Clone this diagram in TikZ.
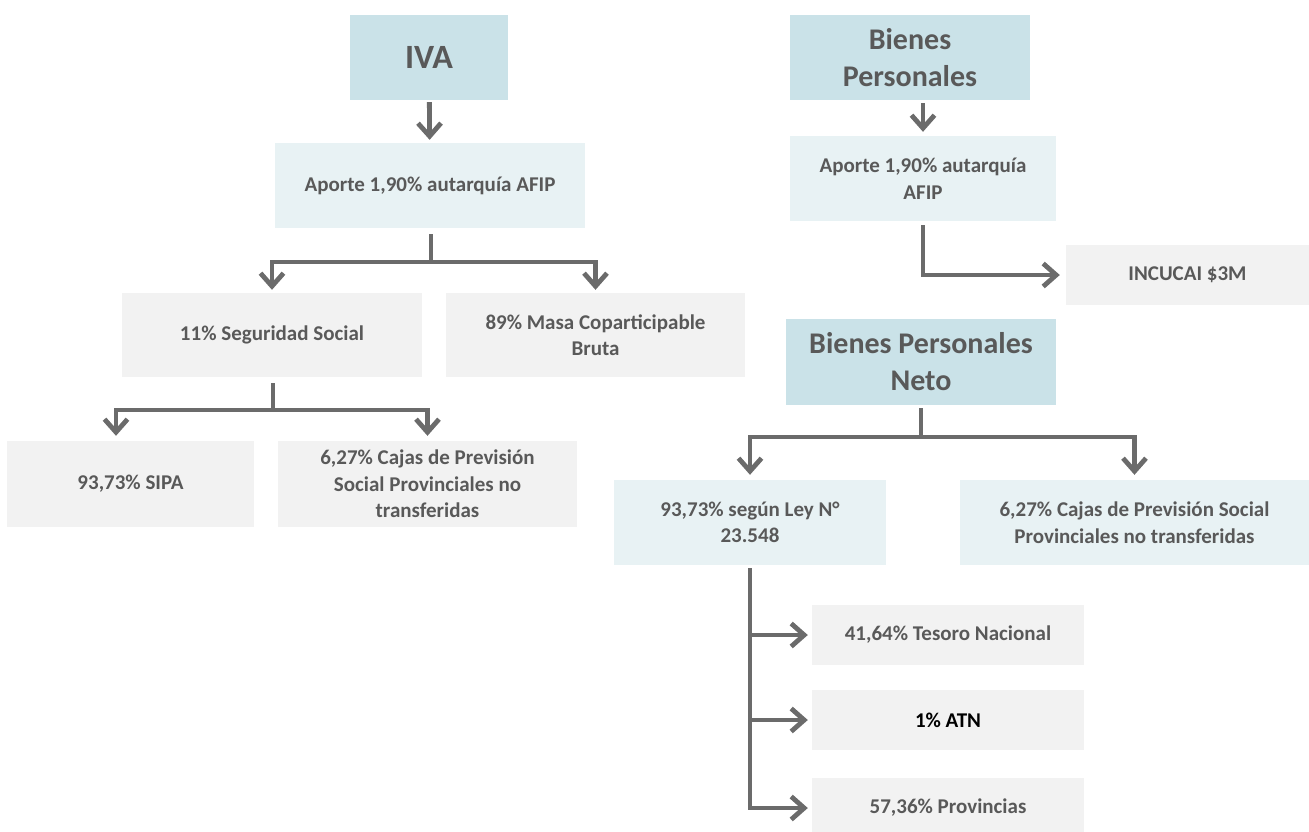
\documentclass[tikz,border=0pt]{standalone}
\usepackage{fontspec}
\setmainfont{Carlito}
\usetikzlibrary{arrows.meta}
\definecolor{titlefill}{HTML}{CAE2E8}
\definecolor{subfill}{HTML}{E8F2F4}
\definecolor{leaffill}{HTML}{F2F2F2}
\definecolor{ink}{HTML}{595959}
\definecolor{wire}{HTML}{6B6B6B}
\begin{document}
\begin{tikzpicture}[x=1pt,y=-1pt,
  box/.style={rectangle, inner sep=0pt, align=center, text=ink,
    font=\bfseries\fontsize{21}{26.5}\selectfont},
  title/.style={box, fill=titlefill, font=\bfseries\fontsize{30}{37}\selectfont},
  sub/.style={box, fill=subfill},
  leaf/.style={box, fill=leaffill},
  sz/.style 2 args={minimum width=#1pt, minimum height=#2pt},
  wireline/.style={draw=wire, line width=4.8pt, line join=miter},
  arr/.style={wireline, -{Straight Barb[length=13pt,width=23pt]}}]

\useasboundingbox (0,0) rectangle (1309,831);

% --- IVA ---
\node[title, sz={158}{85}, font=\bfseries\fontsize{34}{40}\selectfont] (iva) at (429,57.5) {IVA};
\node[sub, sz={310}{85}] (apiva) at (430,185.5) {Aporte 1,90\% autarquía AFIP};
\node[leaf, sz={300}{84}] (ss) at (272,335) {11\% Seguridad Social};
\node[leaf, sz={299}{84}] (masa) at (595.5,335) {89\% Masa Coparticipable\\Bruta};
\node[leaf, sz={247}{86}] (sipa) at (130.5,484) {93,73\% SIPA};
\node[leaf, sz={299}{86}] (cajasA) at (427.5,484) {6,27\% Cajas de Previsión\\Social Provinciales no\\transferidas};

% --- Bienes Personales ---
\node[title, sz={240}{85}] (bp) at (910,57.5) {Bienes\\Personales};
\node[sub, sz={266}{85}] (apbp) at (923,178.5) {Aporte 1,90\% autarquía\\AFIP};
\node[leaf, sz={243}{60}] (incucai) at (1187.5,275) {INCUCAI \$3M};
\node[title, sz={270}{86}] (bpn) at (921,362) {Bienes Personales\\Neto};
\node[sub, sz={272}{85}] (ley) at (750,522.5) {93,73\% según Ley N°\\23.548};
\node[sub, sz={350}{85}] (cajasB) at (1134.5,522.5) {6,27\% Cajas de Previsión Social\\Provinciales no transferidas};
\node[leaf, sz={272}{60}] (tesoro) at (948,635) {41,64\% Tesoro Nacional};
\node[leaf, sz={272}{60}, text=black] (atn) at (948,720) {1\% ATN};
\node[leaf, sz={272}{60}] (prov) at (948,808) {57,36\% Provincias};

% junctions of the branching connectors
\coordinate (j1) at (431,262);
\coordinate (j2) at (273,410);
\coordinate (j3) at (921,437);

% --- IVA connectors ---
\draw[arr, shorten <=2pt, shorten >=3pt] (iva) -- (apiva);
\draw[wireline, shorten <=6pt] (apiva.south -| j1) -- (j1);
\draw[arr, shorten >=3pt] (j1) -| (ss.north);
\draw[arr, shorten >=3pt] (j1) -| (masa.north);
\draw[wireline, shorten <=6pt] (ss.south -| j2) -- (j2);
\draw[arr, shorten >=5pt] (j2) -| ([xshift=-14.5pt]sipa.north);
\draw[arr, shorten >=5pt] (j2) -| (cajasA.north);

% --- Bienes Personales connectors ---
\draw[arr, shorten <=3pt, shorten >=4pt] (apbp.north |- bp.south) -- (apbp.north);
\draw[arr, shorten <=4pt, shorten >=6pt] (apbp.south) |- (incucai.west);
\draw[wireline, shorten <=3pt] (bpn.south) -- (j3);
\draw[arr, shorten >=5pt] (j3) -| (ley.north);
\draw[arr, shorten >=5pt] (j3) -| (cajasB.north);
\draw[arr, shorten <=3pt, shorten >=4pt] (ley.south) |- (tesoro.west);
\draw[arr, shorten <=3pt, shorten >=4pt] (ley.south) |- (atn.west);
\draw[arr, shorten <=3pt, shorten >=4pt] (ley.south) |- (prov.west);
\end{tikzpicture}
\end{document}
